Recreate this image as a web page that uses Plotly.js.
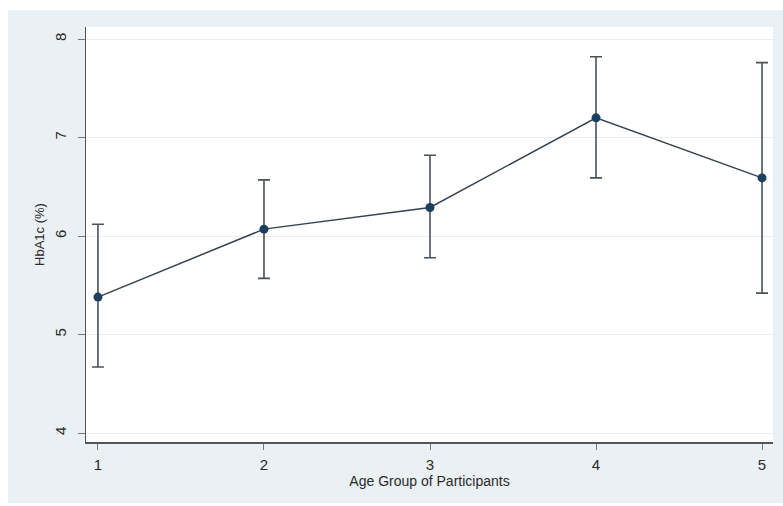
<!DOCTYPE html>
<html>
<head>
<meta charset="utf-8">
<script src="https://cdn.plot.ly/plotly-3.0.1.min.js"></script>
<style>
  html, body { margin: 0; padding: 0; background: #ffffff; width: 783px; height: 506px; overflow: hidden; }
  #chart { position: absolute; left: 8px; top: 10px; width: 775px; height: 493px; }
</style>
</head>
<body>
<div id="chart"></div>
<script>
const ageGroups = [1, 2, 3, 4, 5];
const meanHbA1c = [5.38, 6.07, 6.29, 7.20, 6.59];
const upperCI = [6.12, 6.57, 6.82, 7.82, 7.76];
const lowerCI = [4.67, 5.57, 5.78, 6.59, 5.42];
const xTicks = [1, 2, 3, 4, 5];
const yTicks = [4, 5, 6, 7, 8];

const errPlus = upperCI.map((u, i) => u - meanHbA1c[i]);
const errMinus = lowerCI.map((l, i) => meanHbA1c[i] - l);

const trace = {
  x: ageGroups,
  y: meanHbA1c,
  type: 'scatter',
  mode: 'lines+markers',
  line: { color: '#34424f', width: 1.5 },
  marker: { color: '#1a3f5f', size: 9 },
  error_y: {
    type: 'data',
    symmetric: false,
    array: errPlus,
    arrayminus: errMinus,
    color: '#4a5258',
    thickness: 1.6,
    width: 6
  },
  showlegend: false,
  hoverinfo: 'x+y'
};

const layout = {
  width: 775,
  height: 493,
  paper_bgcolor: '#eaf0f3',
  plot_bgcolor: '#ffffff',
  margin: { l: 78, r: 10, t: 17, b: 61 },
  font: { family: 'Liberation Sans, Arial, sans-serif', size: 13, color: '#2b2b2b' },
  xaxis: {
    range: [0.928, 5.066],
    tickvals: xTicks,
    ticktext: xTicks.map(String),
    showgrid: false,
    zeroline: false,
    showline: true,
    linecolor: '#555555',
    linewidth: 1.5,
    ticks: 'outside',
    ticklen: 6,
    tickwidth: 1,
    tickcolor: '#777777',
    ticklabelstandoff: 2,
    tickfont: { size: 15, color: '#2b2b2b' },
    title: { text: 'Age Group of Participants', font: { size: 14, color: '#2b2b2b' }, standoff: 4 }
  },
  yaxis: {
    range: [3.909, 8.122],
    tickvals: yTicks,
    ticktext: yTicks.map(String),
    tickangle: -90,
    showgrid: true,
    gridcolor: '#eaeded',
    gridwidth: 1,
    zeroline: false,
    showline: true,
    linecolor: '#555555',
    linewidth: 1.5,
    ticks: 'outside',
    ticklen: 7,
    tickwidth: 1,
    tickcolor: '#777777',
    ticklabelstandoff: 6,
    tickfont: { size: 15, color: '#2b2b2b' },
    title: { text: 'HbA1c (%)', font: { size: 13, color: '#2b2b2b' }, standoff: 4 }
  }
};

Plotly.newPlot('chart', [trace], layout, { displayModeBar: false, staticPlot: true });
</script>
</body>
</html>
